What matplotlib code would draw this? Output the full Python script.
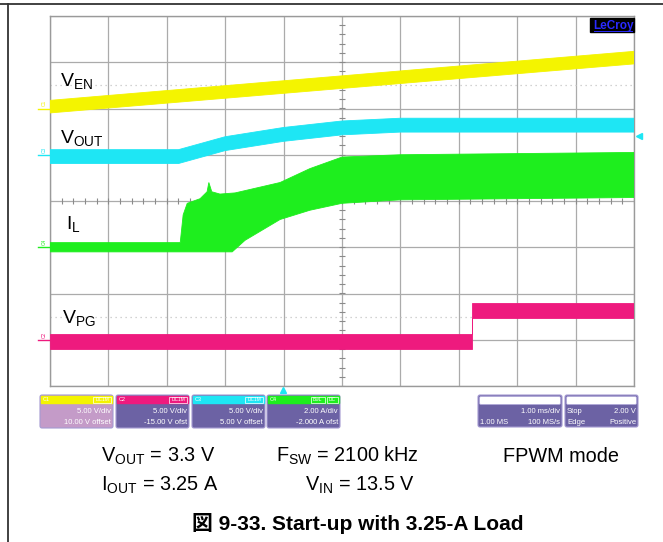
import numpy as np
import matplotlib
matplotlib.use("Agg")
import matplotlib.pyplot as plt
from matplotlib.patches import FancyBboxPatch, Rectangle

plt.rcParams['font.family'] = ['Liberation Sans', 'Noto Sans CJK JP']
plt.rcParams['mathtext.fontset'] = 'custom'
plt.rcParams['mathtext.rm'] = 'Liberation Sans'
plt.rcParams['mathtext.it'] = 'Liberation Sans:italic'
plt.rcParams['mathtext.bf'] = 'Liberation Sans:bold'

W, H = 663, 542

# scope channel settings
ch_names = ['C1', 'C2', 'C3', 'C4']
ch_scale = [5.0, 5.0, 5.0, 2.0]
ch_offset = [10.0, -15.0, 5.0, -2.0]
ch_line1 = ['5.00 V/div', '5.00 V/div', '5.00 V/div', '2.00 A/div']
ch_line2 = ['10.00 V offset', '-15.00 V ofst', '5.00 V offset', '-2.000 A ofst']
ch_colors = ['#f4f400', '#ee1a7e', '#1ee6f4', '#1eee1e']

# time axis in ms, 1 ms/div
t_min, t_max = -4.0, 6.0

# C1 V_EN (V), centre of noisy band
en_t = [-4.0, 6.0]
en_v = [0.2, 5.5]
en_nz = 0.68

# C3 V_OUT (V)
vout_t = [-4.0, -1.8, -1.0, 0.0, 1.0, 2.0, 6.0]
vout_v = [-0.2, -0.2, 1.2, 2.2, 2.9, 3.2, 3.2]
vout_nz = 0.75

# C4 I_L (A), upper and lower envelope of switching ripple
il_t_hi = [-4.0, -1.77, -1.72, -1.65, -1.43, -1.31, -1.28, -1.23, -1.09, -0.83, -0.06, 0.45, 1.0, 2.0, 6.0]
il_hi = [0.2, 0.2, 1.4, 1.9, 2.1, 2.4, 2.8, 2.4, 2.3, 2.35, 2.8, 3.4, 3.9, 4.0, 4.1]
il_t_lo = [-4.0, -0.88, -0.66, -0.06, 0.45, 1.0, 2.0, 6.0]
il_lo = [-0.2, -0.2, 0.3, 1.2, 1.6, 1.9, 2.05, 2.15]

# C2 V_PG (V)
pg_t = [-4.0, 3.23, 3.23, 6.0]
pg_v = [-0.2, -0.2, 3.15, 3.15]
pg_nz = 0.8


def to_div(v, ch):
    i = ch_names.index(ch)
    return (np.asarray(v) + ch_offset[i]) / ch_scale[i]


fig = plt.figure(figsize=(W / 100, H / 100), dpi=100)
fig.patch.set_facecolor('white')

# scope graticule
ax = fig.add_axes([50 / W, 1 - 386 / H, 584 / W, 370 / H])
ax.set_xlim(t_min, t_max)
ax.set_ylim(-4, 4)
ax.set_xticks(np.arange(t_min, t_max + 1))
ax.set_yticks(np.arange(-4, 5))
ax.tick_params(length=0, labelbottom=False, labelleft=False)
ax.grid(True, color='#ababab', lw=0.9, zorder=0)
for s in ax.spines.values():
    s.set_color('#9a9a9a')
    s.set_linewidth(1.0)
ax.set_axisbelow(True)

# centre cross ticks
xc = 1.0
ax.plot(np.arange(t_min, t_max + 0.01, 0.2), np.zeros(51), ls='none', marker='|',
        ms=4, color='#8a8a8a', mew=0.8, zorder=1)
ax.plot(np.full(41, xc), np.arange(-4, 4.01, 0.2), ls='none', marker='_',
        ms=4, color='#8a8a8a', mew=0.8, zorder=1)
for yd in (2.5, -2.5):
    ax.axhline(yd, color='#c4c4c4', lw=0.9, ls=(0, (1, 3)), zorder=1)


def band(t, v, nz, ch, color):
    t = np.asarray(t)
    v = np.asarray(v)
    xs = np.r_[t, t[::-1]]
    ys = np.r_[to_div(v + nz, ch), to_div((v - nz)[::-1], ch)]
    ax.fill(xs, ys, color=color, lw=0.6, ec=color, zorder=3)


band(en_t, en_v, en_nz, 'C1', ch_colors[0])
band(vout_t, vout_v, vout_nz, 'C3', ch_colors[2])
ax.fill(np.r_[il_t_hi, il_t_lo[::-1]],
        np.r_[to_div(il_hi, 'C4'), to_div(il_lo[::-1], 'C4')],
        color=ch_colors[3], lw=0.6, ec=ch_colors[3], zorder=3)
band(pg_t, pg_v, pg_nz, 'C2', ch_colors[1])

# overlay in pixel coordinates
ov = fig.add_axes([0, 0, 1, 1], zorder=5)
ov.set_xlim(0, W)
ov.set_ylim(H, 0)
ov.axis('off')
ov.patch.set_alpha(0)

# page border
ov.plot([0, W], [3.5, 3.5], color='#333333', lw=1.3)
ov.plot([7.5, 7.5], [3.5, H], color='#333333', lw=1.3)

# trace names
ov.text(60, 86, r'$\mathrm{V_{EN}}$', fontsize=14, va='baseline')
ov.text(60, 143, r'$\mathrm{V_{OUT}}$', fontsize=14, va='baseline')
ov.text(66, 229, r'$\mathrm{I_{L}}$', fontsize=14, va='baseline')
ov.text(62, 323, r'$\mathrm{V_{PG}}$', fontsize=14, va='baseline')

# channel ground markers
for i, ch in enumerate(ch_names):
    yg = 201 - to_div(0, ch) * 46.25
    ov.plot([38, 50], [yg, yg], color=ch_colors[i], lw=1.0)
    ov.text(44, yg - 2, ch, fontsize=3.5, color=ch_colors[i], rotation=90,
            ha='center', va='bottom')

# trigger markers
ov.plot(639, 136, marker='<', ms=4, color=ch_colors[2], ls='none')
ov.plot(283, 390, marker='^', ms=4, color=ch_colors[2], ls='none')

# LeCroy logo
ov.add_patch(Rectangle((590, 18), 44, 14, color='black'))
ov.text(613, 25.5, 'LeCroy', fontsize=8.5, color='#2a2aff', fontweight='bold',
        ha='center', va='center')
ov.plot([594, 632], [30.5, 30.5], color='#2a2aff', lw=0.7)

# channel info boxes
box_x = [40, 116, 192, 267]
body_cols = ['#c49bc8', '#6c62a4', '#6c62a4', '#6c62a4']
tags = [['DC1M'], ['DC1M'], ['DC1M'], ['BwL', 'DC']]
for i in range(4):
    x0 = box_x[i]
    ov.add_patch(FancyBboxPatch((x0, 395), 73, 33, boxstyle='round,pad=0,rounding_size=2',
                                fc=body_cols[i], ec='#a49ad2', lw=0.8))
    ov.add_patch(Rectangle((x0 + 1, 396), 71, 7, color=ch_colors[i]))
    ov.text(x0 + 3, 399.5, ch_names[i], fontsize=4, color='white', va='center')
    tx = x0 + 71
    for tg in tags[i][::-1]:
        wtag = 5 + 3.2 * len(tg)
        ov.add_patch(Rectangle((tx - wtag, 397), wtag, 5.5, fc='none', ec='white', lw=0.5))
        ov.text(tx - wtag / 2, 399.7, tg, fontsize=3.5, color='white', ha='center', va='center')
        tx -= wtag + 1.5
    ov.text(x0 + 71, 413, ch_line1[i], fontsize=5.5, color='white', ha='right', va='baseline')
    ov.text(x0 + 71, 424, ch_line2[i], fontsize=5.5, color='white', ha='right', va='baseline')

# timebase and trigger boxes
for x0, w in [(478, 84), (565, 73)]:
    ov.add_patch(FancyBboxPatch((x0, 395), w, 32, boxstyle='round,pad=0,rounding_size=2',
                                fc='#6c62a4', ec='#a49ad2', lw=0.8))
    ov.add_patch(FancyBboxPatch((x0 + 1.5, 396.5), w - 3, 8, boxstyle='round,pad=0,rounding_size=1.5',
                                fc='white', ec='#b0a8d8', lw=0.6))
ov.text(560, 413, '1.00 ms/div', fontsize=5.5, color='white', ha='right', va='baseline')
ov.text(480, 424, '1.00 MS', fontsize=5.5, color='white', ha='left', va='baseline')
ov.text(560, 424, '100 MS/s', fontsize=5.5, color='white', ha='right', va='baseline')
ov.text(567, 413, 'Stop', fontsize=5.5, color='white', ha='left', va='baseline')
ov.text(636, 413, '2.00 V', fontsize=5.5, color='white', ha='right', va='baseline')
ov.text(567, 424, 'Edge', fontsize=5.5, color='white', ha='left', va='baseline')
ov.text(636, 424, 'Positive', fontsize=5.5, color='white', ha='right', va='baseline')

# test conditions
ov.text(101, 462, r'$\mathrm{V_{OUT}}$ = 3.3 V', fontsize=14.3, va='baseline')
ov.text(276, 462, r'$\mathrm{F_{SW}}$ = 2100 kHz', fontsize=14.3, va='baseline')
ov.text(503, 462, 'FPWM mode', fontsize=14.3, va='baseline')
ov.text(101, 491, r'$\mathrm{I_{OUT}}$ = 3.25 A', fontsize=14.3, va='baseline')
ov.text(305, 491, r'$\mathrm{V_{IN}}$ = 13.5 V', fontsize=14.3, va='baseline')

ov.text(358, 530, '図 9-33. Start-up with 3.25-A Load', fontsize=15, fontweight='bold',
        ha='center', va='baseline')

fig.savefig('out.png', dpi=100)
